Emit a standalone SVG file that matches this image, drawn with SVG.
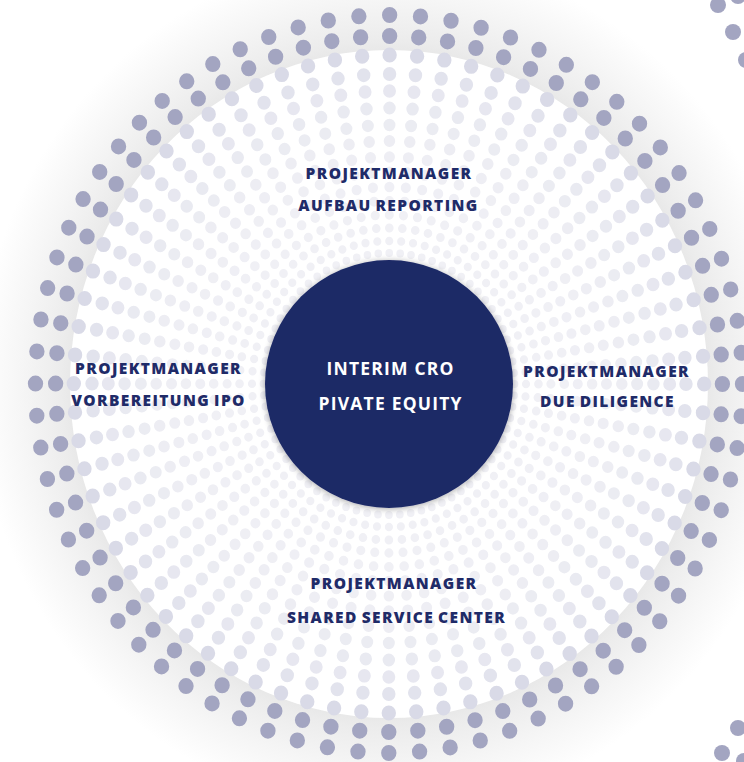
<svg xmlns="http://www.w3.org/2000/svg" width="744" height="762" viewBox="0 0 744 762">
<defs>
<radialGradient id="band" cx="50%" cy="50%" r="50%">
<stop offset="0.76" stop-color="#e6e6e6"/>
<stop offset="0.80" stop-color="#ececec"/>
<stop offset="0.90" stop-color="#f6f6f6"/>
<stop offset="1" stop-color="#ffffff"/>
</radialGradient>
<filter id="sh" x="-20%" y="-20%" width="140%" height="140%">
<feGaussianBlur in="SourceAlpha" stdDeviation="3"/>
<feOffset dx="0" dy="1"/>
<feComponentTransfer><feFuncA type="linear" slope="0.35"/></feComponentTransfer>
<feMerge><feMergeNode/><feMergeNode in="SourceGraphic"/></feMerge>
</filter>
</defs>
<style>
.ring{fill:none;stroke-linecap:round}
.dk{stroke:#a3a5c1}
.lbl{font-family:"Open Sans","DejaVu Sans",sans-serif;font-weight:800;font-size:15.5px;letter-spacing:1.4px;word-spacing:-1.5px;fill:#1f2b68;text-anchor:middle}
.ctr{font-family:"Open Sans","DejaVu Sans",sans-serif;font-weight:700;font-size:17.5px;letter-spacing:1.2px;fill:#ffffff;text-anchor:middle}
.nd{fill:#a3a5c1}
</style>
<rect width="744" height="762" fill="#ffffff"/>
<g id="background">
<g transform="translate(389 384) scale(0.955 1)">
<circle r="430" fill="url(#band)"/>
<circle r="334" fill="#ffffff"/>
</g>
</g>
<g id="dots" transform="translate(389 384) scale(0.958 1)">
<circle class="ring dk" r="369" stroke-width="16" stroke-dasharray="0 32.201"/>
<circle class="ring dk" r="348" stroke-width="16" stroke-dasharray="0 30.369"/>
<circle class="ring" r="329" stroke="#d9dae7" stroke-width="15" stroke-dasharray="0 28.711"/>
<circle class="ring" r="310" stroke="#e2e3ed" stroke-width="14" stroke-dasharray="0 27.053"/>
<circle class="ring" r="293" stroke="#e7e7f0" stroke-width="13.5" stroke-dasharray="0 25.569"/>
<circle class="ring" r="276" stroke="#e9eaf1" stroke-width="13" stroke-dasharray="0 24.086"/>
<circle class="ring" r="259" stroke="#ebecf2" stroke-width="12.5" stroke-dasharray="0 22.602"/>
<circle class="ring" r="243" stroke="#ededf3" stroke-width="12" stroke-dasharray="0 21.206"/>
<circle class="ring" r="227" stroke="#eeeef4" stroke-width="11.5" stroke-dasharray="0 19.810"/>
<circle class="ring" r="212" stroke="#efeff4" stroke-width="11" stroke-dasharray="0 18.501"/>
<circle class="ring" r="197" stroke="#efeff5" stroke-width="10.5" stroke-dasharray="0 17.192"/>
<circle class="ring" r="183" stroke="#f0f0f5" stroke-width="10" stroke-dasharray="0 15.970"/>
<circle class="ring" r="169" stroke="#f0f0f5" stroke-width="9.5" stroke-dasharray="0 14.748"/>
<circle class="ring" r="156" stroke="#f0f0f5" stroke-width="9" stroke-dasharray="0 13.614"/>
<circle class="ring" r="143" stroke="#f0f0f5" stroke-width="8.5" stroke-dasharray="0 12.479"/>
<circle class="ring" r="131" stroke="#f0f0f5" stroke-width="8" stroke-dasharray="0 11.432"/>
</g>
<g id="neighbour-dots">
<circle class="nd" cx="718" cy="5" r="8"/>
<circle class="nd" cx="738" cy="-4" r="8"/>
<circle class="nd" cx="733" cy="32" r="8"/>
<circle class="nd" cx="746" cy="60" r="8"/>
<circle class="nd" cx="738" cy="728" r="8"/>
<circle class="nd" cx="722" cy="753" r="8"/>
<circle class="nd" cx="744" cy="761" r="8"/>
</g>
<g id="connectors"/>
<g id="node-center">
<circle cx="389" cy="384" r="124" fill="#1c2966" filter="url(#sh)"/>
<text class="ctr" x="390.6" y="375">INTERIM CRO</text>
<text class="ctr" x="390.6" y="410">PIVATE EQUITY</text>
</g>
<g id="node-top">
<text class="lbl" x="389" y="179">PROJEKTMANAGER</text>
<text class="lbl" x="388.5" y="211">AUFBAU REPORTING</text>
</g>
<g id="node-left">
<text class="lbl" x="158.5" y="374">PROJEKTMANAGER</text>
<text class="lbl" x="158.5" y="406">VORBEREITUNG IPO</text>
</g>
<g id="node-right">
<text class="lbl" x="606.5" y="376.5">PROJEKTMANAGER</text>
<text class="lbl" x="607.5" y="406.5">DUE DILIGENCE</text>
</g>
<g id="node-bottom">
<text class="lbl" x="394" y="589">PROJEKTMANAGER</text>
<text class="lbl" x="396.5" y="622.5">SHARED SERVICE CENTER</text>
</g>
</svg>
